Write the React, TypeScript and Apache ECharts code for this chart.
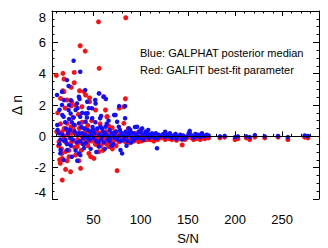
import React, { useEffect, useRef } from "react";
import * as echarts from "echarts";

const xMajorTicks = [50, 100, 150, 200, 250];
const xMinorTicks = [10, 20, 30, 40, 60, 70, 80, 90, 110, 120, 130, 140, 160, 170, 180, 190, 210, 220, 230, 240, 260, 270, 280];

// GALPHAT posterior median: [S/N, Δn]
const bluePoints: number[][] = [
  [28.9, 4.82], [35.9, 4.12], [21.9, 3.59], [23.6, 3.21], [11.3, 2.64], [16.6, 2.85], [41.2, 2.95], [56, 2.74],
  [35.2, 2.38], [16.6, 2.0], [32.5, 2.1], [51.8, 2.32], [63.1, 2.38], [48.3, 1.79], [43.7, 1.47], [77.2, 1.93],
  [83.5, 1.93], [83.5, 1.15], [71.9, 1.36], [23.6, 1.68], [35.9, 1.25], [18.3, 1.25], [57, 1.15],
  [32.8, -1.56], [34.5, -1.09], [22.1, -0.87], [15.1, -0.87], [39.8, -0.76], [55.7, -0.66], [80.3, -1.09],
  [78.6, -0.87], [117.3, -0.76], [20.4, -0.23], [25.7, -0.13], [29.3, 0.72], [34.5, 0.83], [41.6, 0.93],
  [48.6, 1.15], [57.4, 0.61], [62.7, 0.61], [75, 0.93], [76.8, 0.61], [73.3, 1.36], [16.9, 1.36], [18.7, 2.31],
  [24, 1.99], [34.5, 2.53], [43.3, 2.21], [55.7, 2.74], [61, 2.53], [52.2, 2.1], [41.6, 1.46], [31, 1.68],
  [25.7, 1.46], [90.9, 0.21], [97.9, 0.29], [104.9, 0.19], [112, 0.19], [119, 0.1], [126, 0.29], [13.4, 0.19],
  [11.6, 0.72], [87.4, 0.51], [96.2, 0.61], [101.5, 0.51], [45.1, 0], [59.2, 0], [66.2, 0], [69.8, 0.19],
  [12, 0.4], [14, -0.5], [17, 0.1], [19, -0.3], [21, 0.5], [23, 0.2], [26, -0.6], [27, 0.9], [28, -0.2], [30, 0.3],
  [31, -0.9], [33, 0.1], [36, -0.3], [37, 0.6], [38, 0.2], [39, -0.1], [14.8, -1.09], [18.3, -1.51], [27, -1.3],
  [36, -1.2], [24, 1.1], [20, 0.9], [29, 1.2], [38, 1.5], [33, 1.8], [26, 2.3], [14, 1.7], [39, -0.5],
  [41, 0.1], [42, -0.4], [44, 0.4], [46, -0.2], [47, 0.3], [49, 0.6], [50, -0.1], [51, 0.2], [53, -0.3], [54, 0.5],
  [56, 0.1], [58, -0.2], [60, 0.3], [61, -0.4], [63, 0.1], [64, 0.8], [65, -0.2], [67, 0.4], [68, -0.1], [70, 0.2],
  [71, -0.5], [72, 0.1], [74, 0.3], [75, -0.2], [77, 0.0], [78, 0.4], [79, -0.3], [47, -0.8], [52, 0.9], [58, 1.3],
  [66, 1.0], [45, 1.8], [62, -0.8], [69, -0.6], [53, -1.0], [43, 1.2],
  [15, -0.2], [22, -0.5], [25, 0.4], [32, -0.4], [35, 0.2], [40, 0.5], [44, -0.1], [48, 0.1], [50, 0.4], [55, -0.4],
  [59, 0.5], [62, 0.2], [67, -0.3], [73, -0.1], [80, 0.2], [83, 0.0], [87, 0.2], [96, -0.1], [105, 0.3], [111, 0.0],
  [81, 0.1], [82, -0.2], [84, 0.3], [85, 0.0], [86, -0.3], [88, 0.1], [89, 0.4], [91, -0.1], [92, 0.2], [93, -0.2],
  [95, 0.1], [97, 0.0], [99, -0.1], [100, 0.3], [102, 0.1], [103, -0.2], [106, 0.0], [107, 0.2], [109, -0.1],
  [110, 0.1], [113, 0.0], [115, -0.1], [116, 0.2], [118, -0.1], [120, 0.0], [94, 0.6], [108, 0.4], [85, -0.6], [90, -0.4],
  [122, 0.05], [124, 0.15], [126, -0.05], [128, 0.1], [130, 0.0], [131, 0.2], [133, -0.1], [135, 0.05], [137, 0.15],
  [138, -0.15], [140, 0.0], [142, 0.1], [144, -0.2], [145, 0.05], [147, -0.1], [149, 0.0], [151, 0.2], [152, 0.35],
  [154, 0.05], [156, -0.1], [158, 0.15], [159, 0.0], [161, 0.1], [163, -0.05], [165, 0.2], [166, 0.05], [168, 0.0],
  [170, 0.1], [172, 0.05],
  [184, 0.0], [189, 0.02], [200, -0.05], [203, 0.0], [212, 0.0], [215.5, -0.05], [221, 0.08], [231.5, 0.0],
  [245.6, 0.02], [256, -0.05], [273.8, 0.05], [277.3, 0.02],
];

// GALFIT best-fit parameter: [S/N, Δn]
const redPoints: number[][] = [
  [55.3, 7.31], [84.2, 7.57], [35.9, 5.78], [41.2, 5.44], [56, 4.34], [10.6, 3.89], [17.6, 4.02], [18.7, 3.66],
  [29.6, 4.08], [29.6, 3.42], [26.4, 3.13], [17.6, 2.91], [35.2, 2.91], [21.9, 2.32], [26.4, 1.95], [45.8, 2.46],
  [37.7, 1.89], [45.8, 2.21], [60.6, 2.53], [83.8, 2.4], [64.2, 1.25], [77.2, 1.8],
  [16.9, -2.79], [20.4, -2.11], [25.7, -2.26], [36.3, -2.04], [75, -2.19], [16.9, -1.41], [22.1, -1.56],
  [34.5, -1.56], [50.4, -1.41], [20.4, -0.98], [13.4, -0.34], [25.7, -0.45], [16.9, 0.29], [27.2, 0.19], [38, 0],
  [41.6, 0.29], [43.3, -0.45], [53.9, -0.55], [62.7, -0.34], [66.2, -0.66], [71.5, -0.55], [76.8, -0.34],
  [83.9, -0.34], [90.9, -0.23], [97.9, -0.34], [104.9, -0.23], [112, -0.23], [82.1, 0.83], [82.1, 1.89],
  [64.5, 1.25], [62.7, 1.68], [52.2, 1.68], [41.6, 2.64], [39.8, 2.85], [18.7, 2.85], [15.1, 2.42], [31, 1.99],
  [22.1, 0.83], [66.2, 0.66], [52.2, 0.1], [32.8, -0.66], [45.1, -1.09], [55.7, -0.98], [69.8, 0.55],
  [14.8, -1.72], [16.6, -1.09],
  [11, 0.3], [13, -0.6], [15, 0.8], [18, -0.2], [19, 0.5], [21, -0.4], [23, 0.1], [24, -0.9], [26, 0.6], [28, -0.3],
  [29, 0.4], [30, -0.7], [32, 0.2], [33, -0.2], [35, 0.5], [37, -0.4], [38, 0.9], [39, -0.1], [12, 1.5], [20, 1.8],
  [28, 1.2], [34, 1.4], [24, -1.3], [31, -1.2], [37, -0.9], [27, 2.2], [14, -1.5],
  [16, -0.8], [19, 0.0], [22, 0.4], [25, -0.1], [30, 0.7], [34, -0.4], [36, 0.1], [40, -0.5], [42, 0.5], [45, -0.3],
  [50, 0.0], [53, -0.1], [56, -0.4], [62, -0.1], [64, -0.5], [67, 0.3], [71, -0.3], [75, 0.0], [80, -0.2], [84, -0.1],
  [92, 0.0], [102, -0.2], [109, 0.0], [117, -0.1],
  [41, -0.2], [43, 0.2], [44, -0.6], [46, 0.1], [48, -0.3], [49, 0.4], [51, -0.2], [52, -0.5], [54, 0.3], [55, -0.2],
  [57, 0.2], [58, -0.6], [59, 0.0], [61, -0.3], [63, 0.3], [65, -0.2], [66, 0.1], [68, -0.4], [70, 0.0], [72, -0.2],
  [73, 0.3], [74, -0.6], [76, 0.1], [78, -0.3], [79, 0.2], [48, 1.0], [57, 0.8], [44, 0.7], [60, -0.9], [70, -0.8],
  [47, -1.3],
  [81, -0.1], [83, -0.3], [85, 0.1], [86, -0.2], [88, -0.4], [89, 0.0], [91, -0.1], [93, -0.3], [94, 0.2], [96, -0.2],
  [98, -0.1], [99, 0.1], [101, -0.3], [103, -0.1], [105, 0.0], [107, -0.2], [108, 0.1], [110, -0.2], [111, -0.1],
  [114, -0.3], [116, 0.0], [118, -0.2], [120, -0.1], [87, 0.5], [100, 0.4],
  [122, -0.1], [124, -0.05], [126, -0.2], [128, -0.1], [130, -0.15], [131, 0.05], [133, -0.2], [135, -0.1],
  [137, -0.05], [138, -0.25], [140, -0.1], [142, -0.15], [144, -0.55], [145, -0.1], [147, -0.2], [149, -0.1],
  [151, 0.1], [152, 0.2], [154, -0.1], [156, -0.2], [158, 0.0], [159, -0.15], [161, -0.05], [163, -0.2], [165, 0.05],
  [166, -0.1], [168, -0.15], [170, -0.05], [172, -0.1],
  [184, -0.1], [189, -0.05], [200, -0.2], [203, -0.15], [212, -0.1], [215.5, -0.2], [221, -0.05], [231.5, -0.1],
  [245.6, -0.05], [256, -0.2], [273.8, -0.05], [277.3, -0.1],
];

const FONT = "Liberation Sans, Helvetica, Arial, sans-serif";
const X_MIN = 6;
const X_MAX = 289;

export default function App() {
  const ref = useRef<HTMLDivElement>(null);
  useEffect(() => {
    if (!ref.current) return;
    const chart = echarts.init(ref.current, null, { renderer: "svg" });
    const lineStyle = { color: "#000", width: 1 };
    const hiddenLine = { show: false };
    const xBase = { type: "value", min: X_MIN, max: X_MAX, splitLine: { show: false } };
    chart.setOption({
      animation: false,
      backgroundColor: "#fff",
      grid: { left: 52, top: 11, right: 9, bottom: 49, containLabel: false },
      xAxis: [
        {
          ...xBase, position: "bottom",
          axisLine: { show: true, lineStyle },
          axisTick: { show: true, inside: true, length: 5, customValues: xMajorTicks, lineStyle },
          axisLabel: { show: true, customValues: xMajorTicks, margin: 14, fontSize: 13, color: "#000", fontFamily: FONT },
        },
        {
          ...xBase, position: "bottom",
          axisLine: hiddenLine,
          axisTick: { show: true, inside: true, length: 2.5, customValues: xMinorTicks, lineStyle },
          axisLabel: { show: false },
        },
        {
          ...xBase, position: "top",
          axisLine: { show: true, lineStyle },
          axisTick: { show: true, inside: true, length: 5, customValues: xMajorTicks, lineStyle },
          axisLabel: { show: false },
        },
        {
          ...xBase, position: "top",
          axisLine: hiddenLine,
          axisTick: { show: true, inside: true, length: 2.5, customValues: xMinorTicks, lineStyle },
          axisLabel: { show: false },
        },
      ],
      yAxis: [
        {
          type: "value", min: -4, max: 8, interval: 2, position: "left",
          splitLine: { show: false },
          axisLine: { show: true, lineStyle },
          axisTick: { show: true, inside: true, length: 6, lineStyle },
          minorTick: { show: true, splitNumber: 4, length: 2.5, lineStyle },
          axisLabel: {
            show: true, margin: 6, fontSize: 13, color: "#000", fontFamily: FONT,
            verticalAlignMaxLabel: "top", verticalAlignMinLabel: "bottom",
          },
        },
        {
          type: "value", min: -4, max: 8, interval: 2, position: "right",
          splitLine: { show: false },
          axisLine: { show: true, lineStyle },
          axisTick: { show: true, inside: true, length: 6, lineStyle },
          minorTick: { show: true, splitNumber: 4, length: 2.5, lineStyle },
          axisLabel: { show: false },
        },
      ],
      graphic: [
        { type: "text", left: 140, top: 47, style: { text: "Blue: GALPHAT posterior median", fontSize: 11, fill: "#000", fontFamily: FONT } },
        { type: "text", left: 140, top: 64, style: { text: "Red: GALFIT best-fit parameter", fontSize: 11, fill: "#000", fontFamily: FONT } },
        { type: "text", x: 17, y: 105, rotation: Math.PI / 2, style: { text: "Δ n", fontSize: 14, fill: "#000", fontFamily: FONT, align: "center", verticalAlign: "middle" } },
        { type: "text", x: 188, y: 238, style: { text: "S/N", fontSize: 13, fill: "#000", fontFamily: FONT, align: "center", verticalAlign: "middle" } },
      ],
      series: [
        {
          type: "scatter", name: "GALFIT", data: redPoints, symbol: "circle", symbolSize: 5,
          itemStyle: { color: "#ff1010", opacity: 1 },
          markLine: {
            silent: true, symbol: "none", label: { show: false },
            lineStyle: { color: "#000", width: 1, type: "solid" },
            data: [{ yAxis: 0 }],
          },
        },
        {
          type: "scatter", name: "GALPHAT", data: bluePoints, symbol: "circle", symbolSize: 4.5,
          itemStyle: { color: "#1010ff", opacity: 1 },
        },
      ],
    });
    return () => chart.dispose();
  }, []);
  return <div ref={ref} style={{ position: "fixed", left: 0, top: 0, width: 328, height: 248 }} />;
}
